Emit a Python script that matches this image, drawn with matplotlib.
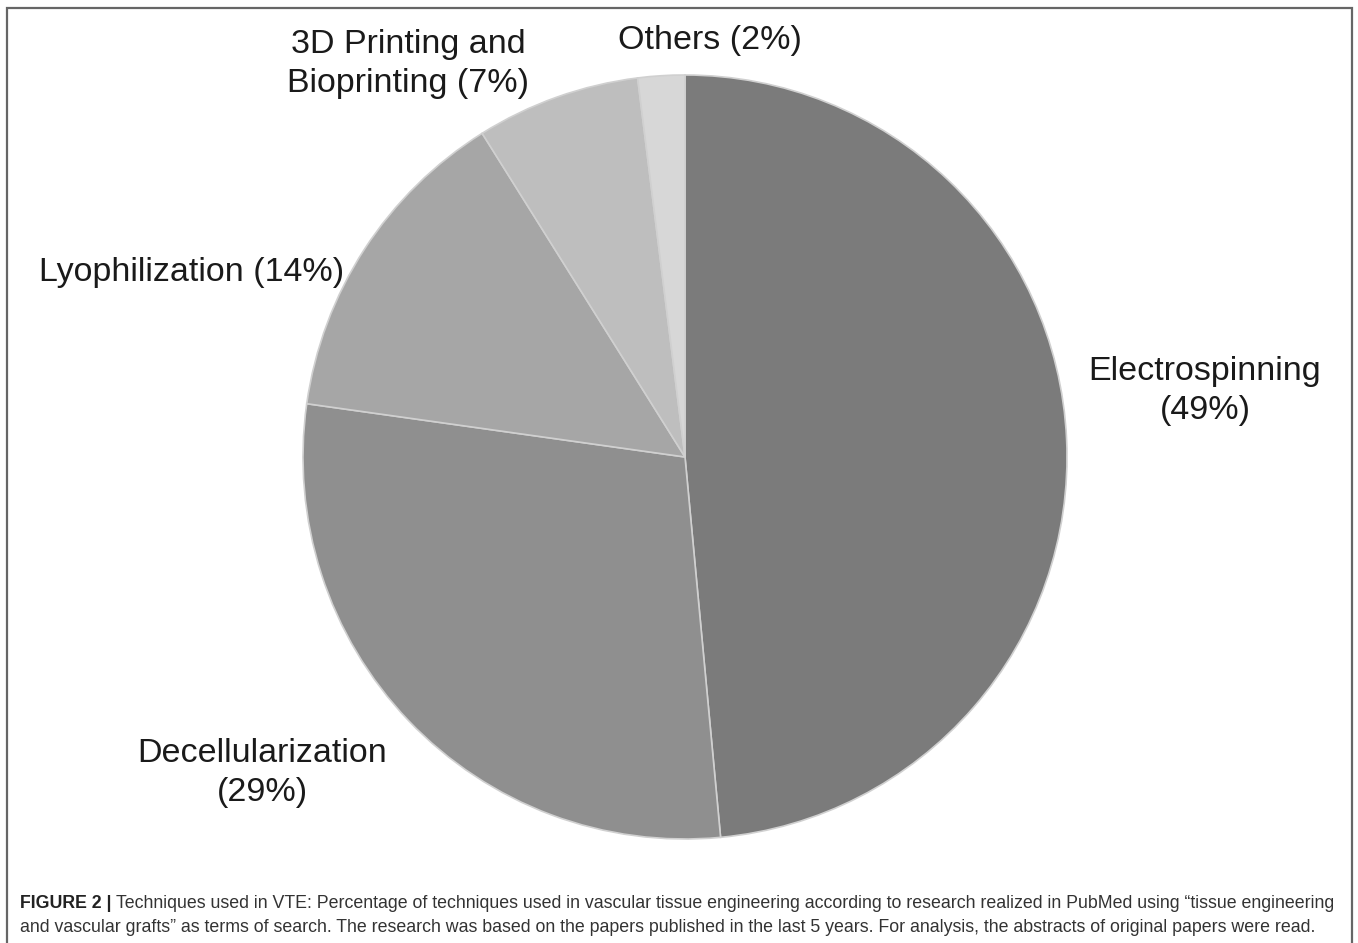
import matplotlib.pyplot as plt
from matplotlib.patches import Rectangle

# data
techniques = ['Electrospinning', 'Decellularization', 'Lyophilization',
              '3D Printing and Bioprinting', 'Others']
shares = [49, 29, 14, 7, 2]
label_texts = ['Electrospinning\n(49%)', 'Decellularization\n(29%)',
               'Lyophilization (14%)', '3D Printing and\nBioprinting (7%)',
               'Others (2%)']
grays = ['#7b7b7b', '#8f8f8f', '#a6a6a6', '#bebebe', '#d7d7d7']

# label centres in pixels (x, y from top)
label_pos = [(1205, 391), (262, 773), (192, 272), (408, 64), (710, 40)]

W, H = 1358, 943
fig = plt.figure(figsize=(W / 100, H / 100), dpi=100)
plt.rcParams['font.family'] = ['Liberation Sans', 'DejaVu Sans']

# pie centre and radius in pixels
cx, cy, r = 685, 457, 382
ax = fig.add_axes([(cx - r) / W, (H - cy - r) / H, 2 * r / W, 2 * r / H])
ax.pie(shares, colors=grays, startangle=90, counterclock=False, radius=1,
       wedgeprops=dict(edgecolor='#d0d0d0', linewidth=1.2))
ax.set_xlim(-1, 1)
ax.set_ylim(-1, 1)
ax.set_aspect('auto')
ax.axis('off')

for txt, (px, py) in zip(label_texts, label_pos):
    fig.text(px / W, 1 - py / H, txt, ha='center', va='center',
             fontsize=24.5, color='#1a1a1a', linespacing=1.3)

# caption
cap1 = ("Techniques used in VTE: Percentage of techniques used in vascular tissue engineering "
        "according to research realized in PubMed using \u201ctissue engineering")
cap2 = ("and vascular grafts\u201d as terms of search. The research was based on the papers "
        "published in the last 5 years. For analysis, the abstracts of original papers were read.")
cap_fs = 12.75
t = fig.text(20 / W, 1 - 903 / H, 'FIGURE 2 | ', fontsize=cap_fs, fontweight='bold',
             color='#222222', va='center', ha='left')
fig.canvas.draw()
bb = t.get_window_extent()
fig.text(bb.x1 / W, 1 - 903 / H, cap1, fontsize=cap_fs, color='#333333',
         va='center', ha='left')
fig.text(20 / W, 1 - 928 / H, cap2, fontsize=cap_fs, color='#333333',
         va='center', ha='left')

# frame around the figure
fig.patches.append(Rectangle((7 / W, -0.05), (1352 - 7) / W, 1 - 8 / H + 0.05,
                             transform=fig.transFigure, fill=False,
                             edgecolor='#666666', linewidth=1.6))

fig.savefig('out.png', dpi=100)
